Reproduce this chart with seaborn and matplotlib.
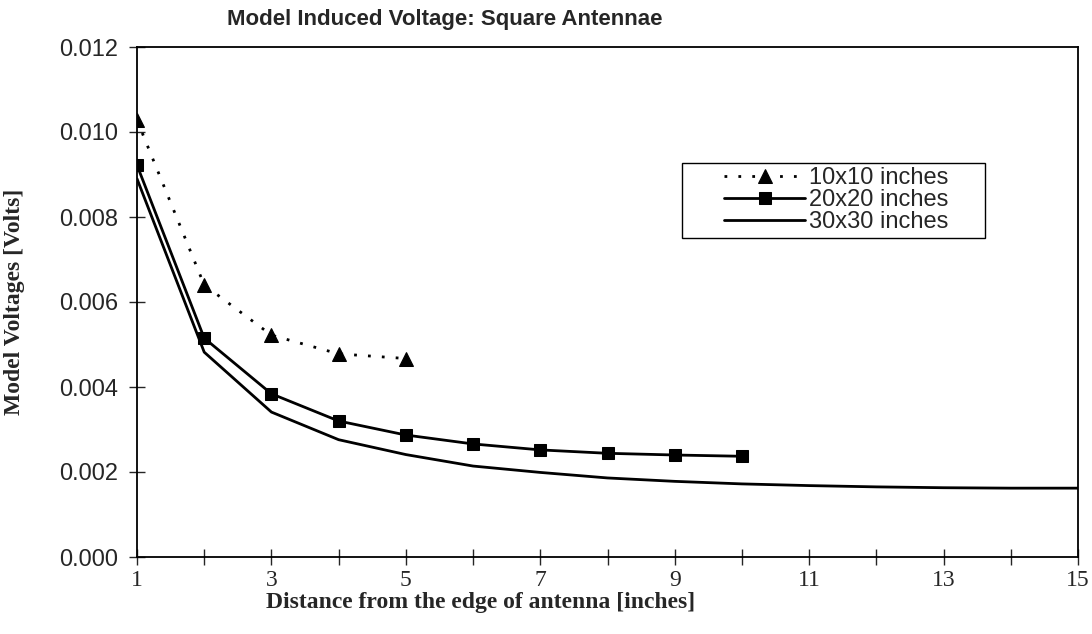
import matplotlib
matplotlib.use("Agg")
import matplotlib.pyplot as plt
from matplotlib.patches import Rectangle
import seaborn as sns
import pandas as pd
import numpy as np

# Data
x_10 = [1, 2, 3, 4, 5]
v_10 = [0.01028, 0.00640, 0.00522, 0.00478, 0.00467]
x_20 = [1, 2, 3, 4, 5, 6, 7, 8, 9, 10]
v_20 = [0.00922, 0.00515, 0.00384, 0.00320, 0.00287, 0.00266, 0.00252, 0.00244, 0.00240, 0.00237]
x_30 = [1, 2, 3, 4, 5, 6, 7, 8, 9, 10, 11, 12, 13, 14, 15]
v_30 = [0.00890, 0.00482, 0.00341, 0.00276, 0.00241, 0.00214, 0.00199, 0.00186, 0.00178, 0.00172,
        0.00168, 0.00165, 0.00163, 0.00162, 0.00162]
labels = ["10x10 inches", "20x20 inches", "30x30 inches"]
x_ticks = [1, 3, 5, 7, 9, 11, 13, 15]
y_ticks = [0.000, 0.002, 0.004, 0.006, 0.008, 0.010, 0.012]

sns.set_style("white")
plt.rcParams['font.family'] = ['Liberation Sans', 'DejaVu Sans']

W, H = 1092, 634
fig = plt.figure(figsize=(W/100, H/100), dpi=100)
L, R, T, B = 137, 1078, 47, 557
ax = fig.add_axes([L/W, 1-B/H, (R-L)/W, (B-T)/H])

df10 = pd.DataFrame({"x": x_10, "v": v_10})
df20 = pd.DataFrame({"x": x_20, "v": v_20})
df30 = pd.DataFrame({"x": x_30, "v": v_30})

sns.lineplot(data=df10, x="x", y="v", ax=ax, color="black", linestyle=(0, (1, 4)), linewidth=2,
             marker="^", markersize=10, markeredgecolor="black", label=labels[0])
sns.lineplot(data=df20, x="x", y="v", ax=ax, color="black", linestyle="-", linewidth=2,
             marker="s", markersize=9, markeredgecolor="black", label=labels[1])
sns.lineplot(data=df30, x="x", y="v", ax=ax, color="black", linestyle="-", linewidth=2,
             label=labels[2])

ax.set_xlim(1, 15)
ax.set_ylim(0, 0.012)
ax.set_xticks(x_ticks)
ax.set_xticks(np.arange(1, 16), minor=True)
ax.set_yticks(y_ticks)
ax.set_yticklabels([f"{t:.3f}" for t in y_ticks], fontsize=17, family=['Liberation Sans'])
ax.set_xticklabels([str(t) for t in x_ticks], fontsize=17, family=['Liberation Serif'])
ax.tick_params(axis='x', which='both', direction='inout', length=11, width=1, pad=4, bottom=True)
ax.tick_params(axis='y', which='both', direction='inout', length=11, width=1, pad=8, left=True)

for s in ax.spines.values():
    s.set_color("black")
    s.set_linewidth(1.3)

ax.set_xlabel("Distance from the edge of antenna [inches]", fontsize=17, fontweight='bold',
              family=['Liberation Serif'])
ax.xaxis.set_label_coords((481-L)/(R-L), -(592-B)/(B-T))
ax.set_ylabel("Model Voltages [Volts]", fontsize=17, fontweight='bold', family=['Liberation Serif'])
ax.yaxis.set_label_coords(-(L-25)/(R-L), 0.5)

fig.text(445/W, 1-20/H, "Model Induced Voltage: Square Antennae", ha='center', va='center',
         fontsize=16, fontweight='bold', family=['Liberation Sans'])

# legend box
bx0, by0, bx1, by1 = 682, 163, 985, 238
ax.add_patch(Rectangle((bx0/W, 1-by1/H), (bx1-bx0)/W, (by1-by0)/H, transform=fig.transFigure,
                       facecolor='white', edgecolor='black', linewidth=1.0, zorder=4,
                       clip_on=False))
leg = ax.legend(loc='center', bbox_to_anchor=((836-L)/(R-L), 1-((by0+by1)/2-T)/(B-T)),
                frameon=False, fontsize=17, handlelength=3.45, handletextpad=0.15,
                labelspacing=0.0, borderpad=0, borderaxespad=0)
leg.set_zorder(6)

fig.savefig("out.png", dpi=100, facecolor="white")
